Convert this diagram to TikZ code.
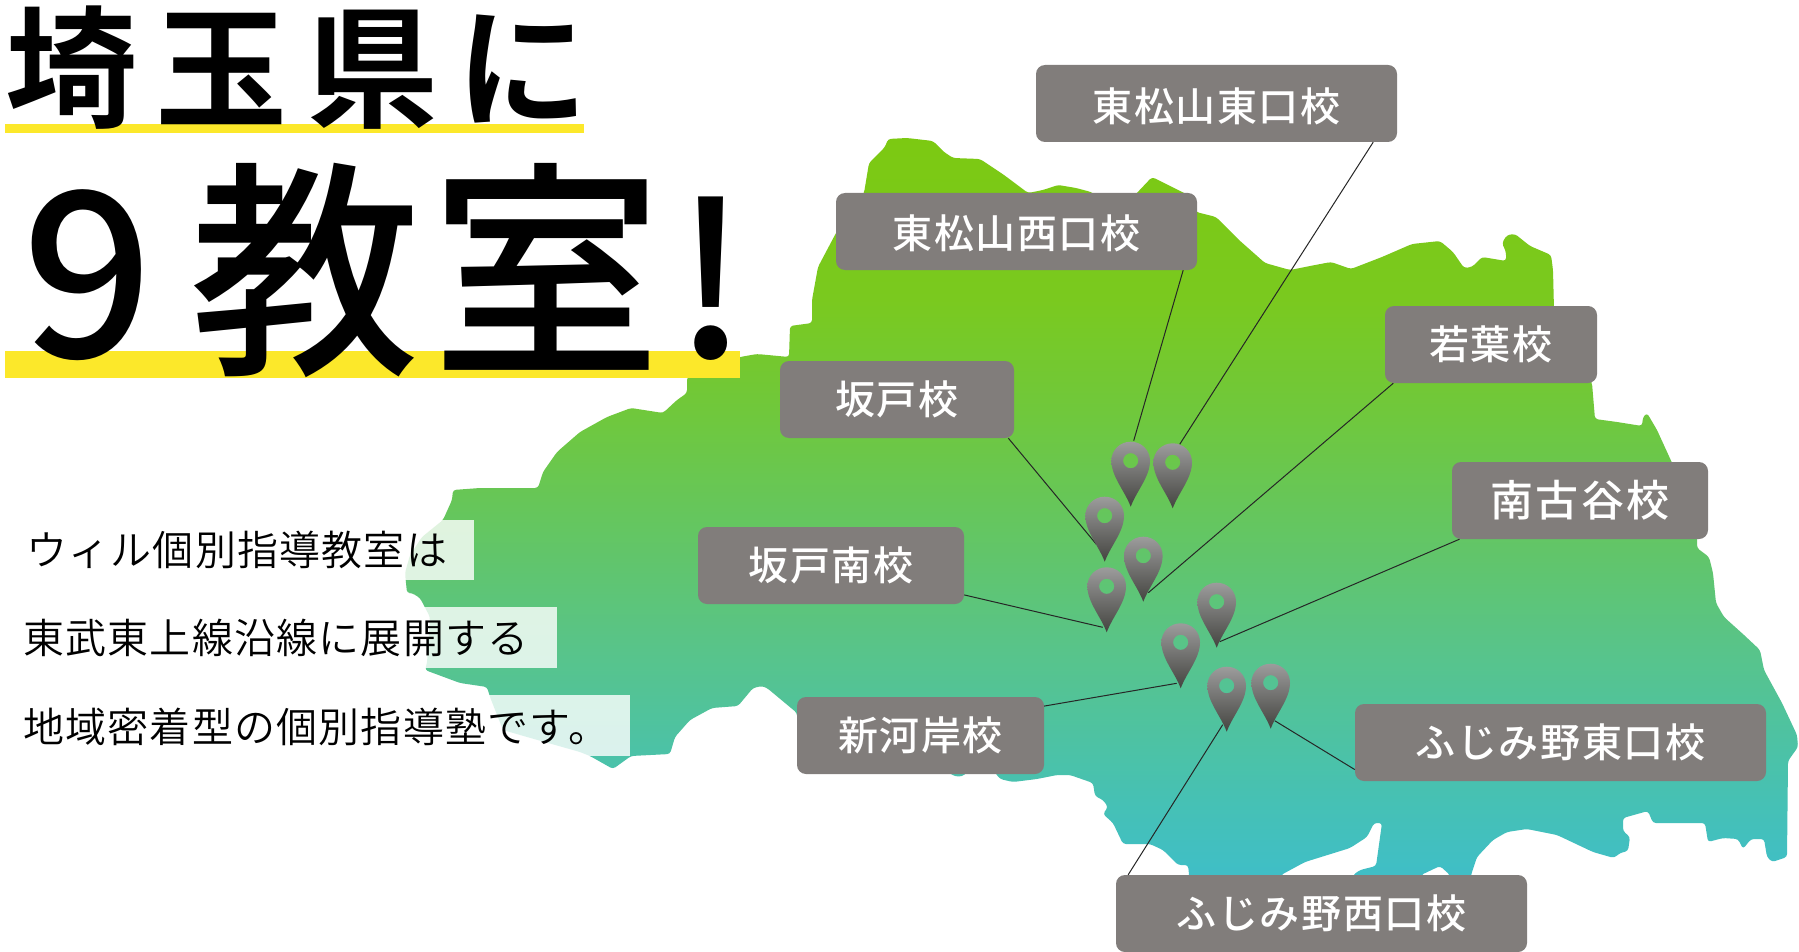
\documentclass[tikz,border=0pt]{standalone}
\usepackage{fontspec}
\usetikzlibrary{calc}
\newfontfamily\jpreg{Noto Sans CJK JP}
\newfontfamily\jpbold{Noto Sans CJK JP Bold}
\newfontfamily\jpmed{Noto Sans CJK JP Medium}
\newfontfamily\jplight{Noto Sans CJK JP DemiLight}
\definecolor{labelGrey}{HTML}{817D7B}
\definecolor{barYellow}{HTML}{FCE82A}
\definecolor{pinTop}{HTML}{9C9C9C}
\definecolor{pinBot}{HTML}{444440}
\definecolor{mapA}{HTML}{3FBEC8}
\definecolor{mapB}{HTML}{46C1B4}
\definecolor{mapC}{HTML}{58C48A}
\definecolor{mapD}{HTML}{66C65A}
\definecolor{mapE}{HTML}{6FC83E}
\definecolor{mapF}{HTML}{7AC91F}
\definecolor{mapG}{HTML}{7CC912}
\pgfdeclareverticalshading{mapfill}{100bp}{
 color(0bp)=(mapA);
 color(25bp)=(mapA);
 color(30.4bp)=(mapB);
 color(40.5bp)=(mapC);
 color(50.2bp)=(mapD);
 color(56bp)=(mapE);
 color(64.1bp)=(mapF);
 color(75bp)=(mapG);
 color(100bp)=(mapG)}
\tikzset{
 schoolbox/.style={fill=labelGrey,rounded corners=9pt,text=white,inner sep=0pt,font={\fontsize{40}{40}\jpmed\addfontfeature{LetterSpace=4}}},
 leader/.style={draw=black!85,line width=1pt},
 introline/.style={anchor=west,inner sep=0pt,font={\fontsize{41}{41}\jplight\addfontfeature{LetterSpace=3}}},
 veil/.style={fill=white,fill opacity=.8},
 underbar/.style={fill=barYellow},
 mappin/.pic={
  \shade[top color=pinTop,bottom color=pinBot,even odd rule]
   (0,0) .. controls (-6,-16) and (-19.3,-30) .. (-19.3,-46)
   .. controls (-19.3,-56.7) and (-10.7,-65) .. (0,-65)
   .. controls (10.7,-65) and (19.3,-56.7) .. (19.3,-46)
   .. controls (19.3,-30) and (6,-16) .. (0,0) -- cycle
   (0,-46) circle[radius=7.6pt];
 }
}
\newcommand{\boxat}[6]{\node[schoolbox,minimum width=#4pt-#3pt,minimum height=#6pt-#5pt] (#1) at ({(#3+#4)/2},{(#5+#6)/2}) {#2};}
\begin{document}
\begin{tikzpicture}[x=1pt,y=-1pt]
\useasboundingbox[fill=white] (0,0) rectangle (1799,952);
% map
\shade[shading=mapfill,rounded corners=3pt]
 (888,139)--(907,138)--(933,141)--(944,152)--(953,158)--(980,159)--(1004,175)--(1028,193)--(1043,190)--(1058,185)--(1076,188)--(1091,192)--(1096,195)--(1135,195)--(1152,177)--(1188,195)--(1196,212)--(1216,217)--(1239,240)--(1265,263)--(1290,270)--(1310,266)--(1331,262)--(1351,269)--(1382,257)--(1412,244)--(1440,241)--(1453,252)--(1464,268)--(1472,267)--(1482,257)--(1506,261)--(1506,252)--(1502,243)--(1507,235)--(1515,234)--(1530,246)--(1551,255)--(1553,270)--(1554,310)--(1590,380)--(1592,383)--(1595,419)--(1617,422)--(1642,426)--(1643,417)--(1647,413)--(1657,430)--(1673,465)--(1697,535)--(1697,548)--(1709,557)--(1713,573)--(1716,603)--(1724,617)--(1744,635)--(1760,650)--(1764,670)--(1782,703)--(1797,735)--(1798,747)--(1788,761)--(1787,857)--(1772,862)--(1767,857)--(1764,839)--(1751,839)--(1743,849)--(1738,839)--(1723,838)--(1708,842)--(1705,823)--(1653,823)--(1648,811)--(1623,818)--(1623,831)--(1630,837)--(1628,851)--(1620,853)--(1614,858)--(1593,852)--(1557,835)--(1527,829)--(1507,832)--(1493,840)--(1477,857)--(1471,875)--(1471,880)--(1450,880)--(1450,875)--(1440,866)--(1421,875)--(1421,880)--(1353,880)--(1353,875)--(1360,870)--(1376,866)--(1382,823)--(1374,823)--(1367,837)--(1350,848)--(1305,862)--(1281,875)--(1281,880)--(1189,880)--(1189,874)--(1188,865)--(1178,865)--(1163,850)--(1150,844)--(1123,844)--(1113,823)--(1103,814)--(1108,807)--(1103,800)--(1095,796)--(1093,783)--(1070,775)--(1057,775)--(1037,779)--(1013,782)--(1000,779)--(993,770)--(968,770)--(965,775)--(958,777)--(950,774)--(947,770)--(800,770)--(797,713)--(767,688)--(762,686)--(753,688)--(738,706)--(712,708)--(690,720)--(675,737)--(670,754)--(631,756)--(613,769)--(590,756)--(580,752)--(527,737)--(503,730)--(490,697)--(487,687)--(460,683)--(425,670)--(427,663)--(430,617)--(420,598)--(412,593)--(407,593)--(405,573)--(410,555)--(422,537)--(443,520)--(452,500)--(453,490)--(480,488)--(538,488)--(543,472)--(557,452)--(580,432)--(607,417)--(631,408)--(663,413)--(677,400)--(687,393)--(687,377)--(740,357)--(757,354)--(789,357)--(790,326)--(812,323)--(812,300)--(818,267)--(836,233)--(864,193)--(869,163)--(885,147)--cycle;
% veils and intro text
\fill[veil] (0,520) rectangle (474,580);
\fill[veil] (0,607) rectangle (557,668);
\fill[veil] (0,695) rectangle (630,756);
\node[introline] (introA) at (26,550) {ウィル個別指導教室は};
\node[introline] (introB) at (23,638) {東武東上線沿線に展開する};
\node[introline] (introC) at (23,727) {地域密着型の個別指導塾です。};
% labels
\boxat{lblHE}{\raisebox{-3pt}[\height][\depth]{東松山東口校}}{1036}{1397}{65}{142}
\boxat{lblHW}{\raisebox{-2pt}[\height][\depth]{東松山西口校}}{836}{1197}{193}{270}
\boxat{lblSK}{坂戸校}{780}{1014}{361}{438}
\boxat{lblWK}{若葉校}{1385}{1597}{306}{383}
\boxat{lblMK}{\fontsize{43}{43}\selectfont\addfontfeature{LetterSpace=6}南古谷校}{1452}{1708}{462}{539}
\boxat{lblSM}{坂戸南校}{698}{964}{527}{604}
\boxat{lblSG}{新河岸校}{797}{1044}{697}{774}
\boxat{lblFE}{ふじみ野東口校}{1355}{1766}{704}{781}
\boxat{lblFW}{ふじみ野西口校}{1116}{1527}{875}{952}
% pins
\coordinate (pinA) at (1130.7,506.7);
\coordinate (pinB) at (1172.7,508.3);
\coordinate (pinC) at (1104.7,561.7);
\coordinate (pinD) at (1143.3,601.7);
\coordinate (pinE) at (1106.7,632.3);
\coordinate (pinF) at (1216.7,647.7);
\coordinate (pinG) at (1180.7,688.3);
\coordinate (pinH) at (1226.7,731.7);
\coordinate (pinI) at (1270.7,728.7);
% connectors
\draw[leader] ($(lblHW.south west)!.9612!(lblHW.south east)$) -- ($(pinA)+(3,-66)$);
\draw[leader] ($(lblHE.south west)!.9335!(lblHE.south east)$) -- ($(pinB)+(7,-64)$);
\draw[leader] ($(lblSK.south west)!.975!(lblSK.south east)$) -- ($(pinC)+(-8,-17)$);
\draw[leader] ($(lblWK.south west)!.04!(lblWK.south east)$) -- ($(pinD)+(5,-9)$);
\draw[leader] ($(lblMK.south west)!.03!(lblMK.south east)$) -- ($(pinF)+(3,-6)$);
\draw[leader] ($(lblSM.south east)!.12!(lblSM.north east)$) -- ($(pinE)+(-4,-5)$);
\draw[leader] ($(lblSG.north east)!.12!(lblSG.south east)$) -- ($(pinG)+(-4,-5)$);
\draw[leader] ($(lblFE.south west)!.15!(lblFE.north west)$) -- ($(pinI)+(4,-8)$);
\draw[leader] ($(lblFW.north west)!.03!(lblFW.north east)$) -- ($(pinH)+(-4,-7)$);
\foreach \p in {pinA,pinB,pinC,pinD,pinE,pinF,pinG,pinH,pinI} \pic at (\p) {mappin};
% title
\fill[underbar] (5,124) rectangle (584,133);
\fill[underbar] (5,351) rectangle (740,378);
\node[anchor=base west,inner sep=0pt,font={\fontsize{132}{132}\jpbold\addfontfeature{LetterSpace=14}}] (titleA) at (5,118) {埼玉県に};
\node[anchor=base west,inner sep=0pt,font={\fontsize{230}{230}\jpmed}] (titleB) at (22,357) {9\hspace{37pt}教\hspace{11pt}室\hspace{13pt}{\fontsize{213}{213}\selectfont !}};
\end{tikzpicture}
\end{document}
